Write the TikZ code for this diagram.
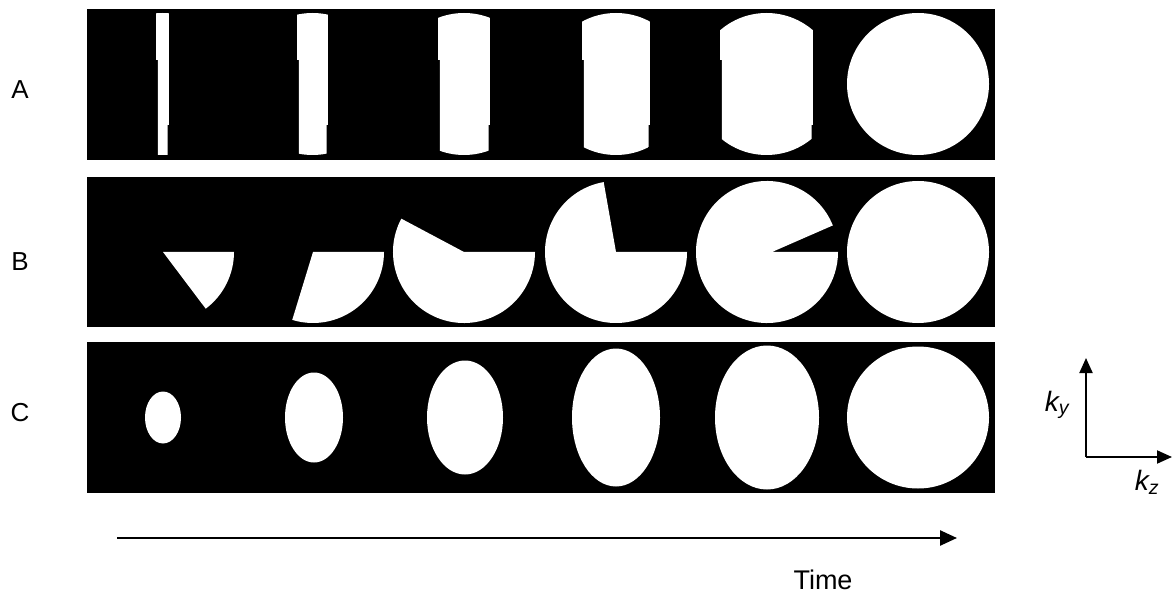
\documentclass[tikz,border=0pt]{standalone}
\usepackage{fontspec}
\setmainfont{Liberation Sans}
\usetikzlibrary{arrows.meta, calc}

\begin{document}
\begin{tikzpicture}[x=1pt, y=1pt,
        panel/.style={fill=black},
        blob/.style={fill=white},
        rowlabel/.style={font=\fontsize{26}{30}\selectfont},
        axislabel/.style={font=\fontsize{28}{32}\selectfont\itshape},
        axisarrow/.style={line width=2pt, -{Triangle[length=15pt, width=13pt]}}]
    \useasboundingbox (0,0) rectangle (1174,595);

    % Row A: central band of k-space, getting wider
    \fill[panel] (87,435) rectangle (995,586);
    \node[rowlabel] (labA) at (20,505) {A};
    \foreach \cx/\w in {162.5/5.5, 312.5/14.5, 464/25, 616/33, 766.5/45.5}{
        \begin{scope}
            \clip (\cx-\w-0.8,600) -- (\cx+\w+0.8,600) -- (\cx+\w+0.8,470) -- (\cx+\w-0.4,470)
                -- (\cx+\w-0.4,430) -- (\cx-\w+0.8,430) -- (\cx-\w+0.8,535) -- (\cx-\w-0.8,535) -- cycle;
            \fill[blob] (\cx,511) circle (71);
        \end{scope}
    }
    \fill[blob] (918,511) circle (71);

    % Row B: sector sweeping round
    \fill[panel] (87,268) rectangle (995,418);
    \node[rowlabel] (labB) at (20,333) {B};
    \foreach \cx/\s/\e in {163/-53/0, 313/-107/0, 464/152/360, 616/100/360}
        \fill[blob] (\cx,343) -- ++(\s:71) arc[start angle=\s, end angle=\e, radius=71] -- cycle;
    \fill[blob] (772,343) -- ($(767,343)+(22:71)$) arc[start angle=22, end angle=360, radius=71] -- cycle;
    \fill[blob] (918,343) circle (71);

    % Row C: ellipse growing from the centre
    \fill[panel] (87,102) rectangle (995,253);
    \node[rowlabel] (labC) at (20,182) {C};
    \foreach \cx/\rx/\ry in {163/18/26, 314/29/45, 465/38/57, 616/44/69}
        \fill[blob] (\cx,177.5) ellipse[x radius=\rx, y radius=\ry];
    \begin{scope}
        \clip (767,177.5) circle (74);
        \fill[blob] (767,177.5) ellipse[x radius=52, y radius=72];
    \end{scope}
    \fill[blob] (918,177.5) circle (71);

    % Time axis
    \coordinate (tstart) at (117,57);
    \coordinate (tend) at (957,57);
    \draw[line width=2.5pt, -{Triangle[length=17pt, width=15pt]}] (tstart) -- (tend);
    \node[font=\fontsize{27}{31}\selectfont] (time) at (823,15) {Time};

    % k-space axes
    \coordinate (origin) at (1086,138);
    \coordinate (kyend) at (1086,237);
    \coordinate (kzend) at (1172,138);
    \draw[axisarrow] (origin) -- (kyend);
    \draw[axisarrow] (origin) -- (kzend);
    \node[axislabel] (ky) at (1057,190) {k\textsubscript{y}};
    \node[axislabel] (kz) at (1147,113) {k\textsubscript{z}};
\end{tikzpicture}
\end{document}
